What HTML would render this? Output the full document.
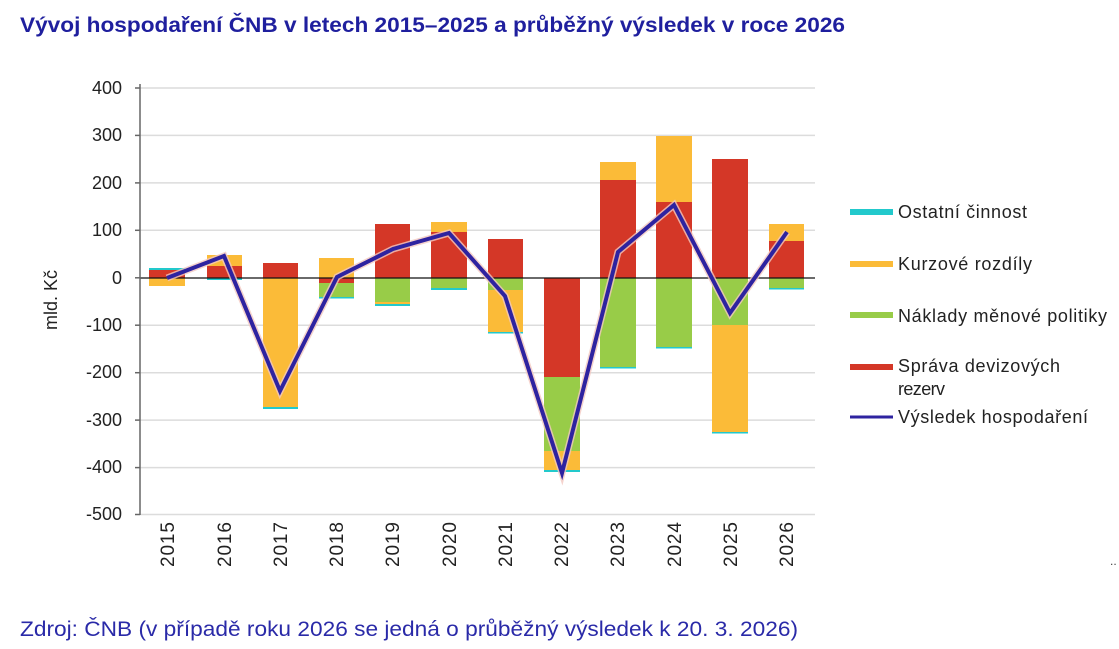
<!DOCTYPE html>
<html><head><meta charset="utf-8"><style>
body{margin:0;background:#fff;width:1119px;height:649px;overflow:hidden}
svg{display:block;font-family:"Liberation Sans",Arial,sans-serif}
</style></head><body>
<svg width="1119" height="649" viewBox="0 0 1119 649">
<text x="20" y="32" font-size="21" font-weight="bold" fill="#1f1f9e" textLength="825" lengthAdjust="spacingAndGlyphs">Vývoj hospodaření ČNB v letech 2015–2025 a průběžný výsledek v roce 2026</text>
<g stroke="#dcdcdc" stroke-width="1.5">
<line x1="140" x2="815" y1="88" y2="88"/><line x1="140" x2="815" y1="135.4" y2="135.4"/>
<line x1="140" x2="815" y1="182.9" y2="182.9"/><line x1="140" x2="815" y1="230.3" y2="230.3"/>
<line x1="140" x2="815" y1="325.2" y2="325.2"/><line x1="140" x2="815" y1="372.7" y2="372.7"/>
<line x1="140" x2="815" y1="420.1" y2="420.1"/><line x1="140" x2="815" y1="467.6" y2="467.6"/>
<line x1="140" x2="815" y1="514.5" y2="514.5"/>
</g>
<g fill="#222" font-size="18" text-anchor="end">
<text x="122" y="94">400</text><text x="122" y="141">300</text><text x="122" y="189">200</text>
<text x="122" y="236">100</text><text x="122" y="284">0</text><text x="122" y="331">-100</text>
<text x="122" y="378">-200</text><text x="122" y="426">-300</text><text x="122" y="473">-400</text>
<text x="122" y="520">-500</text>
</g>
<text transform="translate(57,300) rotate(-90)" font-size="18" fill="#222" text-anchor="middle">mld. Kč</text>
<g>
<rect x="149" y="268" width="36" height="2" fill="#22c9cc"/><rect x="149" y="270" width="36" height="8" fill="#d43727"/><rect x="149" y="278" width="36" height="8" fill="#fbbb38"/>
<rect x="207" y="255" width="35" height="11" fill="#fbbb38"/><rect x="207" y="266" width="35" height="12" fill="#d43727"/><rect x="207" y="278" width="35" height="2" fill="#22c9cc"/>
<rect x="263" y="263" width="35" height="15" fill="#d43727"/><rect x="263" y="278" width="35" height="129" fill="#fbbb38"/><rect x="263" y="407" width="35" height="2" fill="#22c9cc"/>
<rect x="319" y="258" width="35" height="20" fill="#fbbb38"/><rect x="319" y="278" width="35" height="5" fill="#d43727"/><rect x="319" y="283" width="35" height="14" fill="#98cc48"/><rect x="319" y="297" width="35" height="1.5" fill="#22c9cc"/>
<rect x="375" y="224" width="35" height="54" fill="#d43727"/><rect x="375" y="278" width="35" height="24" fill="#98cc48"/><rect x="375" y="302" width="35" height="2" fill="#fbbb38"/><rect x="375" y="304" width="35" height="2" fill="#22c9cc"/>
<rect x="431" y="222" width="36" height="10" fill="#fbbb38"/><rect x="431" y="232" width="36" height="46" fill="#d43727"/><rect x="431" y="278" width="36" height="10" fill="#98cc48"/><rect x="431" y="288" width="36" height="2" fill="#22c9cc"/>
<rect x="488" y="239" width="35" height="39" fill="#d43727"/><rect x="488" y="278" width="35" height="12" fill="#98cc48"/><rect x="488" y="290" width="35" height="42" fill="#fbbb38"/><rect x="488" y="332" width="35" height="1.5" fill="#22c9cc"/>
<rect x="544" y="278" width="36" height="99" fill="#d43727"/><rect x="544" y="377" width="36" height="74" fill="#98cc48"/><rect x="544" y="451" width="36" height="19" fill="#fbbb38"/><rect x="544" y="470" width="36" height="2" fill="#22c9cc"/>
<rect x="600" y="162" width="36" height="18" fill="#fbbb38"/><rect x="600" y="180" width="36" height="98" fill="#d43727"/><rect x="600" y="278" width="36" height="89" fill="#98cc48"/><rect x="600" y="367" width="36" height="1.5" fill="#22c9cc"/>
<rect x="656" y="136" width="36" height="66" fill="#fbbb38"/><rect x="656" y="202" width="36" height="76" fill="#d43727"/><rect x="656" y="278" width="36" height="69" fill="#98cc48"/><rect x="656" y="347" width="36" height="1.5" fill="#22c9cc"/>
<rect x="712" y="159" width="36" height="119" fill="#d43727"/><rect x="712" y="278" width="36" height="47" fill="#98cc48"/><rect x="712" y="325" width="36" height="107" fill="#fbbb38"/><rect x="712" y="432" width="36" height="1.5" fill="#22c9cc"/>
<rect x="769" y="224" width="35" height="17" fill="#fbbb38"/><rect x="769" y="241" width="35" height="37" fill="#d43727"/><rect x="769" y="278" width="35" height="10" fill="#98cc48"/><rect x="769" y="288" width="35" height="1.5" fill="#22c9cc"/>
</g>
<line x1="140" x2="815" y1="278" y2="278" stroke="#111" stroke-width="1.3"/>
<line x1="140" x2="140" y1="84" y2="515" stroke="#666" stroke-width="1.5"/>
<g stroke="#666" stroke-width="1.5">
<line x1="135" x2="140" y1="88" y2="88"/><line x1="135" x2="140" y1="135.4" y2="135.4"/><line x1="135" x2="140" y1="182.9" y2="182.9"/><line x1="135" x2="140" y1="230.3" y2="230.3"/><line x1="135" x2="140" y1="277.8" y2="277.8"/><line x1="135" x2="140" y1="325.2" y2="325.2"/><line x1="135" x2="140" y1="372.7" y2="372.7"/><line x1="135" x2="140" y1="420.1" y2="420.1"/><line x1="135" x2="140" y1="467.6" y2="467.6"/><line x1="135" x2="140" y1="514.5" y2="514.5"/>
</g>
<polyline points="167,278 224,256 280,391 337,277 393,249 449,233 505,296 562,473 618,252 674,205 730,313 787,232" fill="none" stroke="#f2c8c0" stroke-width="7" opacity="0.8"/>
<polyline points="167,278 224,256 280,391 337,277 393,249 449,233 505,296 562,473 618,252 674,205 730,313 787,232" fill="none" stroke="#2e23a0" stroke-width="4"/>
<g fill="#222" font-size="19" lengthAdjust="spacingAndGlyphs">
<text transform="translate(174,567) rotate(-90)" textLength="45">2015</text><text transform="translate(231,567) rotate(-90)" textLength="45">2016</text>
<text transform="translate(287,567) rotate(-90)" textLength="45">2017</text><text transform="translate(343,567) rotate(-90)" textLength="45">2018</text>
<text transform="translate(399,567) rotate(-90)" textLength="45">2019</text><text transform="translate(456,567) rotate(-90)" textLength="45">2020</text>
<text transform="translate(512,567) rotate(-90)" textLength="45">2021</text><text transform="translate(568,567) rotate(-90)" textLength="45">2022</text>
<text transform="translate(624,567) rotate(-90)" textLength="45">2023</text><text transform="translate(681,567) rotate(-90)" textLength="45">2024</text>
<text transform="translate(737,567) rotate(-90)" textLength="45">2025</text><text transform="translate(793,567) rotate(-90)" textLength="45">2026</text>
</g>
<rect x="850" y="209" width="43" height="6" fill="#22c9cc"/>
<rect x="850" y="261" width="43" height="6" fill="#fbbb38"/>
<rect x="850" y="312" width="43" height="6" fill="#98cc48"/>
<rect x="850" y="364" width="43" height="6" fill="#d43727"/>
<line x1="850" x2="893" y1="417" y2="417" stroke="#2e23a0" stroke-width="3"/>
<g fill="#222" font-size="18">
<text x="898" y="218" textLength="129">Ostatní činnost</text>
<text x="898" y="270" textLength="134">Kurzové rozdíly</text>
<text x="898" y="322" textLength="209">Náklady měnové politiky</text>
<text x="898" y="372" textLength="162">Správa devizových</text>
<text x="898" y="395" textLength="47">rezerv</text>
<text x="898" y="423" textLength="190">Výsledek hospodaření</text>
</g>
<text x="1110" y="565" font-size="12" fill="#444">..</text>
<text x="20" y="636" font-size="21" fill="#2a2aa8" textLength="778" lengthAdjust="spacingAndGlyphs">Zdroj: ČNB (v případě roku 2026 se jedná o průběžný výsledek k 20. 3. 2026)</text>
</svg>
</body></html>
